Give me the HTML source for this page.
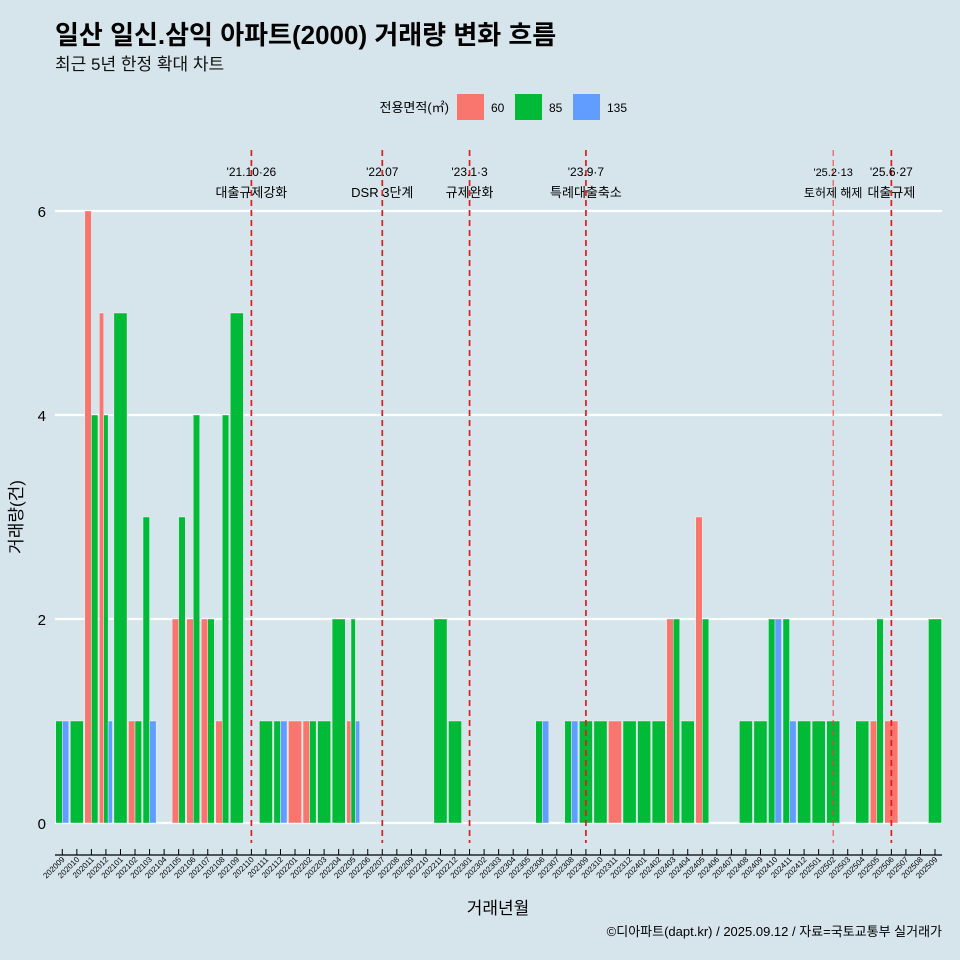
<!DOCTYPE html>
<html><head><meta charset="utf-8">
<style>
html,body{margin:0;padding:0;background:#d6e4eb;overflow:hidden;width:960px;height:960px;}
svg{display:block;}
svg text{font-family:"Liberation Sans","Noto Sans CJK KR",sans-serif;}
</style></head>
<body>
<svg id="chart" width="960" height="960" xmlns="http://www.w3.org/2000/svg">
<rect width="960" height="960" fill="#d6e4eb"/>
<text x="55" y="44" font-size="26" font-weight="bold" fill="#000">일산 일신.삼익 아파트(2000) 거래량 변화 흐름</text>
<text x="55" y="70" font-size="17" fill="#111">최근 5년 한정 확대 차트</text>
<g>
<text x="449" y="112" font-size="13" text-anchor="end">전용면적(㎡)</text>
<rect x="457" y="94" width="27" height="26" fill="#f8766d"/>
<text x="491" y="112" font-size="12">60</text>
<rect x="515" y="94" width="27" height="26" fill="#00ba38"/>
<text x="549" y="112" font-size="12">85</text>
<rect x="573" y="94" width="27" height="26" fill="#619cff"/>
<text x="607" y="112" font-size="12">135</text>
</g>
<g id="grid"></g><g id="bars"></g><g id="events"></g><g id="axes"></g>
<text x="22" y="517" font-size="17" text-anchor="middle" transform="rotate(-90 22 517)">거래량(건)</text>
<text x="498" y="914" font-size="17" text-anchor="middle">거래년월</text>
<text x="942" y="936" font-size="13" text-anchor="end">©디아파트(dapt.kr) / 2025.09.12 / 자료=국토교통부 실거래가</text>
</svg>
<script>
const months=["202009","202010","202011","202012","202101","202102","202103","202104","202105","202106","202107","202108","202109","202110","202111","202112","202201","202202","202203","202204","202205","202206","202207","202208","202209","202210","202211","202212","202301","202302","202303","202304","202305","202306","202307","202308","202309","202310","202311","202312","202401","202402","202403","202404","202405","202406","202407","202408","202409","202410","202411","202412","202501","202502","202503","202504","202505","202506","202507","202508","202509"];
const s60 =[0,0,6,5,0,1,0,0,2,2,2,1,0,0,0,0,1,1,0,0,1,0,0,0,0,0,0,0,0,0,0,0,0,0,0,0,0,0,1,0,0,0,2,0,3,0,0,0,0,0,0,0,0,0,0,0,1,1,0,0,0];
const s85 =[1,1,4,4,5,1,3,0,3,4,2,4,5,0,1,1,0,1,1,2,2,0,0,0,0,0,2,1,0,0,0,0,0,1,0,1,1,1,0,1,1,1,2,1,2,0,0,1,1,2,2,1,1,1,0,1,2,0,0,0,2];
const s135=[1,0,0,1,0,0,1,0,0,0,0,0,0,0,0,1,0,0,0,0,1,0,0,0,0,0,0,0,0,0,0,0,0,1,0,1,0,0,0,0,0,0,0,0,0,0,0,0,0,2,1,0,0,0,0,0,0,0,0,0,0];
const yTicks=[0,2,4,6];
const eventMonths=["202110","202207","202301","202309","202502","202506"];
const eventDates=["'21.10·26","'22.07","'23.1·3","'23.9·7","'25.2·13","'25.6·27"];
const eventTexts=["대출규제강화","DSR 3단계","규제완화","특례대출축소","토허제 해제","대출규제"];
const NS="http://www.w3.org/2000/svg";
const x0=62.3,step=14.545,yBase=823,yUnit=102;
const xs=i=>x0+i*step;
const ys=v=>yBase-v*yUnit;
function mk(tag,attrs,parent,txt){const e=document.createElementNS(NS,tag);for(const k in attrs)e.setAttribute(k,attrs[k]);if(txt!==undefined)e.textContent=txt;parent.appendChild(e);return e;}
const grid=document.getElementById('grid'),bars=document.getElementById('bars'),ev=document.getElementById('events'),ax=document.getElementById('axes');
yTicks.forEach(t=>{
 const l=mk('line',{x1:55,x2:942,y1:ys(t),y2:ys(t),stroke:'#fff','stroke-width':2.2},grid);
 
 
 const tx=mk('text',{x:46,y:ys(t)+6,'font-size':15,'text-anchor':'end'},ax,String(t));
 
 
});
const series=[[s60,'#f8766d','60'],[s85,'#00ba38','85'],[s135,'#619cff','135']];
months.forEach((m,i)=>{
 const present=series.filter(s=>s[0][i]>0);
 if(!present.length)return;
 const bw=13.1/present.length;
 present.forEach((s,j)=>{
  const v=s[0][i];
  const r=mk('rect',{x:xs(i)-6.55+j*bw,y:ys(v),width:bw,height:v*yUnit,fill:s[1],stroke:'#fff','stroke-width':0.4},bars);
  
  
 });
});
const axl=mk('line',{x1:55,x2:942,y1:855,y2:855,stroke:'#000','stroke-width':1.2},ax);


months.forEach((m,i)=>{
 const tk=mk('line',{x1:xs(i),x2:xs(i),y1:849,y2:855,stroke:'#000','stroke-width':1},ax);
 
 
 const x=xs(i)+3,y=860;
 const t=mk('text',{x:x,y:y,'font-size':8,'text-anchor':'end',transform:`rotate(-45 ${x} ${y})`},ax,m);
 
 
});
eventMonths.forEach((m,k)=>{
 const i=months.indexOf(m);const x=xs(i);const thin=m==="202502";
 const l=mk('line',{x1:x,x2:x,y1:150,y2:843,stroke:thin?'#e8403f':'#e31a1c','stroke-width':thin?1:1.7,'stroke-dasharray':'6 4'},ev);
 
 
 const fs=thin?11:12;
 const a=mk('text',{x:x,y:176,'font-size':fs,'text-anchor':'middle'},ev,eventDates[k]);
 
 
 const b=mk('text',{x:x,y:197,'font-size':fs+1,'text-anchor':'middle'},ev,eventTexts[k]);
 
 
});
</script>
</body></html>
